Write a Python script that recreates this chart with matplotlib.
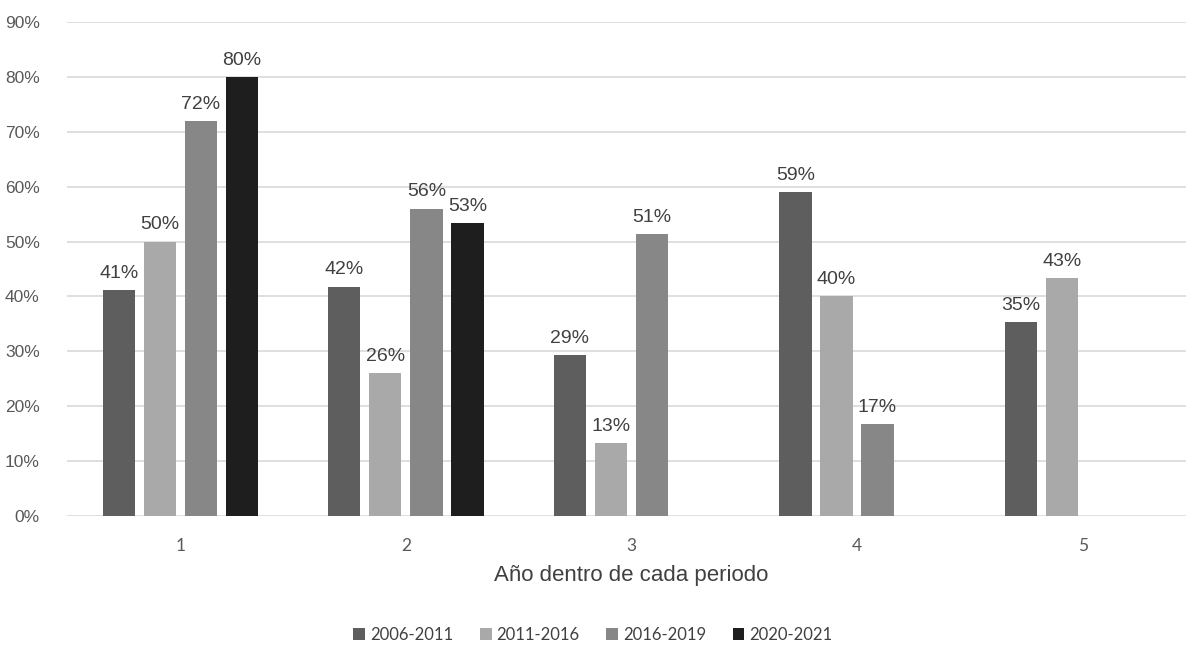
import matplotlib
matplotlib.use("Agg")
import matplotlib.pyplot as plt
import numpy as np

categories = ["1", "2", "3", "4", "5"]
series_names = ["2006-2011", "2011-2016", "2016-2019", "2020-2021"]
s2006 = [41.1, 41.8, 29.3, 59.0, 35.3]
s2011 = [50.0, 26.0, 13.3, 40.0, 43.3]
s2016 = [71.9, 56.0, 51.3, 16.8, None]
s2020 = [80.0, 53.3, None, None, None]
colors = ["#5e5e5e", "#a9a9a9", "#878787", "#1e1e1e"]

series = [s2006, s2011, s2016, s2020]

fig = plt.figure(figsize=(11.86, 6.48), dpi=100)
ax = fig.add_axes([0.0569, 0.2037, 0.951, 0.7623])

x = np.arange(len(categories))
pitch = 0.182
width = 0.143
for i, (vals, c, name) in enumerate(zip(series, colors, series_names)):
    off = (i - 1.5) * pitch
    xs = [xi + off for xi, v in zip(x, vals) if v is not None]
    ys = [v for v in vals if v is not None]
    bars = ax.bar(xs, ys, width=width, color=c, label=name, zorder=3)
    for b, v in zip(bars, ys):
        ax.text(b.get_x() + b.get_width() / 2, v + 1.5, f"{round(v):d}%",
                ha="center", va="bottom", fontsize=14, color="#404040",
                family="Liberation Sans")

ax.set_xlim(-0.5, 4.5)
ax.set_ylim(0, 90)
ax.set_yticks(np.arange(0, 91, 10))
ax.set_yticklabels([f"{t}%" for t in range(0, 91, 10)], family="Liberation Sans",
                   fontsize=12.5, color="#595959")
ax.set_xticks(x)
ax.set_xticklabels(categories, family="Lato", fontsize=12.5, color="#595959")
ax.tick_params(axis="y", length=0, pad=20)
ax.tick_params(axis="x", length=0, pad=16)
ax.yaxis.grid(True, color="#d9d9d9", linewidth=1.2, zorder=0)
for sp in ax.spines.values():
    sp.set_visible(False)
ax.set_xlabel("Año dentro de cada periodo", family="Liberation Sans", fontsize=16,
              color="#404040", labelpad=8)

handles, labels = ax.get_legend_handles_labels()
fig.legend(handles, labels, loc="center", bbox_to_anchor=(0.5, 0.02),
           ncol=4, frameon=False, prop={"family": "Lato", "size": 12},
           handlelength=0.7, handleheight=0.7, handletextpad=0.3, columnspacing=1.6,
           labelcolor="#404040")

fig.savefig("out.png", dpi=100)
